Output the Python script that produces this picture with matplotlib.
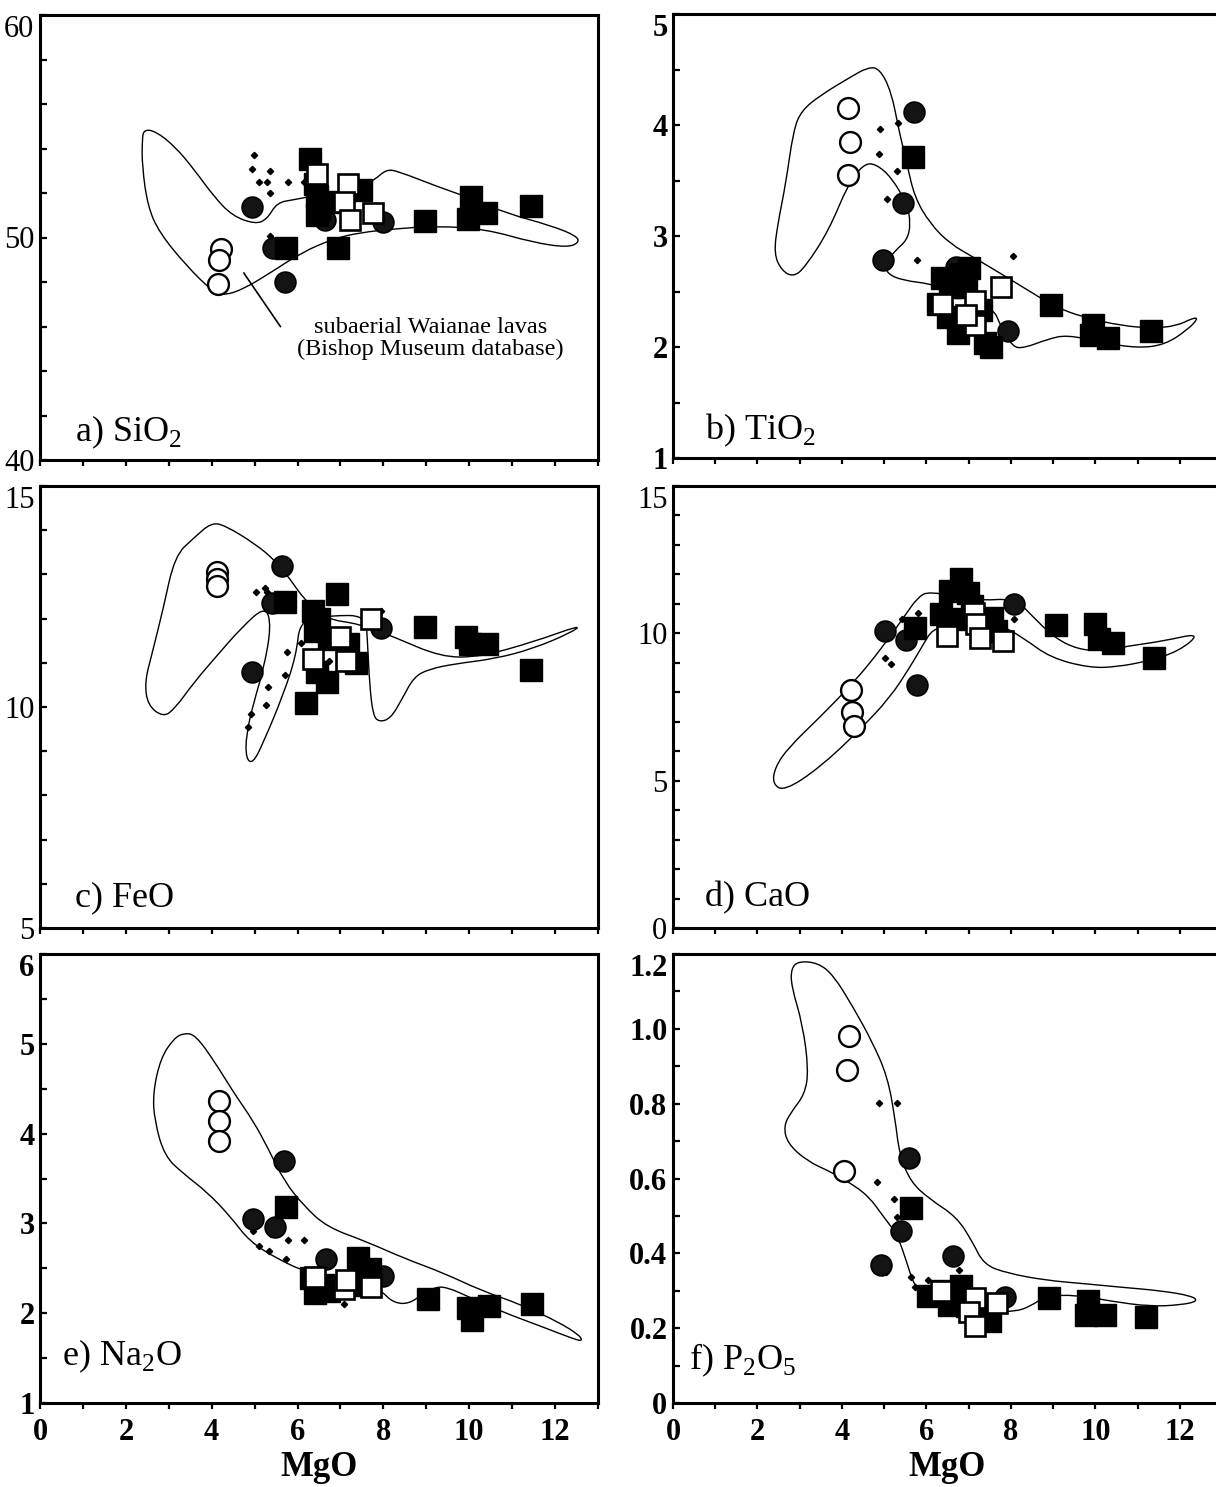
import numpy as np
import matplotlib
matplotlib.use('Agg')
import matplotlib.pyplot as plt
from matplotlib.path import Path
from matplotlib.patches import PathPatch
from matplotlib.ticker import FixedLocator, MultipleLocator, FixedFormatter

plt.rcParams['font.family'] = ['Liberation Serif', 'DejaVu Serif']

# ---- a) SiO2 vs MgO ----
a_field = [(2.42, 54.85), (2.69, 54.78), (3.14, 54.1), (3.59, 53.06), (4.04, 51.87), (4.48, 50.97),
           (5.02, 50.6), (5.29, 50.82), (5.52, 51.57), (5.92, 51.7), (6.37, 51.87), (7.35, 52.1),
           (7.8, 52.6), (8.07, 53.06), (8.34, 52.98), (9.24, 52.3), (10.13, 51.7), (10.85, 51.1),
           (11.93, 50.52), (12.5, 50.07), (12.56, 49.78), (12.29, 49.55), (11.48, 49.78), (10.4, 50.37),
           (9.24, 50.52), (8.34, 50.4), (7.44, 50.22), (6.82, 49.93), (6.1, 49.33), (5.38, 48.43),
           (4.75, 47.69), (4.3, 47.4), (4.04, 47.54), (3.41, 48.73), (2.78, 50.22), (2.51, 51.4),
           (2.38, 53.2), (2.38, 54.4)]
a_open_circ = [(4.22, 49.5), (4.18, 49.0), (4.15, 47.9)]
a_filled_circ = [(4.95, 51.35), (5.7, 48.0), (5.43, 49.55), (6.65, 50.8), (7.98, 50.7)]
a_filled_sq = [(6.28, 53.55), (6.4, 52.4), (6.45, 51.85), (6.5, 51.3), (6.45, 51.0), (6.7, 51.6),
               (7.49, 52.15), (5.74, 49.55), (6.95, 49.55), (8.97, 50.75), (10.04, 51.8),
               (9.96, 50.85), (10.4, 51.1), (11.43, 51.4)]
a_open_sq = [(6.46, 52.85), (7.17, 52.4), (7.08, 51.6), (7.22, 50.8), (7.76, 51.1)]
a_dots = [(4.98, 53.7), (4.93, 53.1), (5.36, 53.0), (5.1, 52.5), (5.3, 52.5), (5.78, 52.5),
          (5.36, 52.0), (5.36, 50.07), (6.14, 52.5)]

# ---- b) TiO2 vs MgO ----
b_field = [(2.39, 2.84), (2.57, 2.69), (2.85, 2.63), (3.13, 2.72), (3.69, 3.05), (4.15, 3.47),
           (4.52, 3.65), (4.8, 3.65), (5.17, 3.53), (5.54, 3.29), (5.63, 3.11), (5.54, 2.96),
           (5.26, 2.87), (5.03, 2.75), (5.07, 2.66), (5.44, 2.6), (6.09, 2.57), (6.56, 2.51),
           (7.57, 2.36), (7.76, 2.19), (8.04, 2.0), (8.31, 1.99), (8.87, 2.07), (9.33, 2.11),
           (10.17, 2.04), (11.0, 1.99), (11.65, 2.02), (12.2, 2.16), (12.44, 2.26), (12.3, 2.26),
           (11.93, 2.19), (11.37, 2.17), (10.63, 2.19), (9.7, 2.27), (9.06, 2.36), (8.41, 2.51),
           (7.94, 2.62), (7.11, 2.81), (6.56, 2.93), (6.09, 3.11), (5.72, 3.35), (5.54, 3.65),
           (5.35, 3.95), (5.17, 4.3), (4.89, 4.51), (4.61, 4.52), (4.15, 4.42), (3.5, 4.27),
           (3.04, 4.13), (2.85, 3.95), (2.67, 3.47), (2.48, 3.11)]
b_open_circ = [(4.15, 4.15), (4.19, 3.85), (4.15, 3.55)]
b_filled_circ = [(5.7, 4.12), (5.44, 3.3), (4.98, 2.78), (6.69, 2.72), (7.94, 2.14)]
b_filled_sq = [(5.68, 3.71), (6.37, 2.62), (6.79, 2.66), (7.02, 2.71), (6.56, 2.54), (6.93, 2.54),
               (6.28, 2.39), (6.5, 2.27), (6.74, 2.13), (7.3, 2.33), (7.39, 2.04), (7.53, 2.0),
               (8.96, 2.38), (9.94, 2.2), (9.89, 2.11), (10.3, 2.08), (11.32, 2.14)]
b_open_sq = [(7.76, 2.54), (6.37, 2.39), (7.16, 2.41), (7.16, 2.2), (6.93, 2.29)]
b_dots = [(5.33, 4.02), (4.9, 3.96), (4.87, 3.74), (5.3, 3.59), (5.07, 3.33), (5.77, 2.78), (8.04, 2.82)]

# ---- c) FeO vs MgO ----
c_field = [(2.87, 9.77), (2.51, 10.04), (2.44, 10.56), (2.6, 11.17), (2.87, 12.22), (3.14, 13.42),
           (3.59, 13.83), (3.99, 14.17), (4.31, 14.11), (5.03, 13.68), (5.48, 13.31), (5.83, 12.89),
           (6.15, 12.44), (6.64, 11.99), (7.45, 11.88), (8.26, 11.58), (9.34, 11.13), (10.23, 11.13),
           (11.49, 11.47), (12.61, 11.86), (12.39, 11.69), (11.49, 11.32), (10.59, 11.09), (9.69, 10.98),
           (9.07, 10.86), (8.71, 10.68), (8.44, 10.19), (8.17, 9.74), (7.9, 9.66), (7.76, 9.81),
           (7.68, 10.49), (7.63, 11.47), (7.59, 12.07), (6.82, 12.07), (6.06, 11.99), (5.97, 11.17),
           (5.66, 10.26), (5.21, 9.21), (4.96, 8.72), (4.8, 8.83), (4.8, 9.36), (4.98, 10.11),
           (5.21, 10.86), (5.39, 11.84), (5.25, 12.29), (4.67, 11.77), (4.13, 11.17), (3.59, 10.56),
           (3.14, 9.96)]
c_open_circ = [(4.13, 13.05), (4.13, 12.9), (4.13, 12.74)]
c_filled_circ = [(5.64, 13.2), (5.4, 12.35), (4.94, 10.8), (7.94, 11.78)]
c_filled_sq = [(6.91, 12.56), (5.7, 12.38), (6.36, 12.18), (6.5, 11.99), (6.41, 11.73), (6.73, 11.54),
               (7.18, 11.43), (7.36, 11.0), (6.46, 10.79), (6.69, 10.56), (6.19, 10.08), (8.98, 11.8),
               (9.92, 11.58), (10.01, 11.43), (10.41, 11.43), (11.45, 10.83)]
c_open_sq = [(7.0, 11.58), (6.36, 11.09), (7.14, 11.05), (7.72, 11.99)]
c_dots = [(5.03, 12.6), (5.25, 12.7), (5.3, 12.6), (6.08, 11.45), (5.75, 11.24), (5.7, 10.73),
          (5.31, 10.45), (5.27, 10.05), (4.91, 9.85), (4.85, 9.55), (6.73, 11.03), (7.09, 11.03),
          (7.94, 12.18)]

# ---- d) CaO vs MgO ----
d_field = [(6.06, 11.44), (7.18, 11.1), (8.1, 11.19), (8.47, 10.64), (9.03, 9.85), (9.58, 9.46),
           (10.14, 9.4), (10.79, 9.57), (11.62, 9.74), (12.5, 10.02), (11.99, 9.4), (11.25, 9.06),
           (10.51, 8.86), (9.86, 8.83), (8.94, 9.17), (8.29, 9.85), (7.73, 10.31), (6.62, 10.19),
           (6.16, 10.19), (5.88, 9.51), (5.6, 8.83), (5.14, 7.82), (4.4, 6.69), (3.47, 5.44),
           (2.64, 4.65), (2.36, 4.88), (2.41, 5.44), (2.73, 6.12), (3.47, 7.14), (4.31, 8.38),
           (4.95, 9.51), (5.51, 10.64), (5.79, 11.21)]
d_open_circ = [(4.21, 8.07), (4.23, 7.33), (4.29, 6.86)]
d_filled_circ = [(5.02, 10.08), (5.51, 9.76), (5.77, 8.25), (8.07, 10.98), (6.44, 10.53)]
d_filled_sq = [(5.74, 10.17), (6.81, 11.83), (6.57, 11.44), (6.99, 11.38), (6.34, 10.64), (6.67, 10.47),
               (7.08, 10.93), (7.55, 10.53), (7.64, 10.08), (9.07, 10.28), (10.0, 10.33), (10.09, 9.8),
               (10.42, 9.68), (11.39, 9.15)]
d_open_sq = [(6.48, 9.91), (7.13, 10.7), (7.18, 10.3), (7.27, 9.85), (7.82, 9.74)]
d_dots = [(5.42, 10.48), (5.79, 10.7), (5.03, 9.17), (5.16, 8.97), (8.08, 10.48)]

# ---- e) Na2O vs MgO ----
e_field = [(3.35, 5.12), (3.62, 5.1), (4.07, 4.8), (4.52, 4.45), (4.97, 4.14), (5.33, 3.82),
           (5.69, 3.47), (6.14, 3.2), (6.68, 2.96), (7.59, 2.8), (8.49, 2.61), (9.39, 2.45),
           (10.29, 2.25), (11.19, 2.1), (12.09, 1.9), (12.58, 1.75), (12.63, 1.69), (12.45, 1.71),
           (11.64, 1.86), (10.74, 2.02), (10.0, 2.18), (9.48, 2.29), (9.2, 2.29), (8.94, 2.22),
           (8.58, 2.1), (8.22, 2.12), (7.95, 2.25), (7.5, 2.37), (6.95, 2.41), (6.23, 2.45),
           (5.51, 2.61), (4.88, 2.8), (4.43, 3.08), (3.89, 3.35), (3.35, 3.55), (2.9, 3.75),
           (2.67, 4.14), (2.63, 4.45), (2.81, 4.84), (3.12, 5.06)]
e_open_circ = [(4.16, 4.36), (4.16, 4.14), (4.16, 3.92)]
e_filled_circ = [(5.69, 3.69), (4.97, 3.05), (5.47, 2.96), (6.67, 2.6), (8.0, 2.41)]
e_filled_sq = [(5.74, 3.18), (6.32, 2.39), (6.41, 2.22), (6.73, 2.25), (6.86, 2.31), (7.41, 2.61),
               (7.54, 2.41), (7.36, 2.31), (7.68, 2.49), (9.03, 2.16), (9.97, 2.06), (10.06, 1.92),
               (10.47, 2.08), (11.46, 2.1)]
e_open_sq = [(6.41, 2.4), (7.09, 2.27), (7.72, 2.29), (7.14, 2.37)]
e_dots = [(4.97, 2.92), (5.38, 2.88), (5.78, 2.81), (6.14, 2.81), (5.11, 2.75), (5.33, 2.69),
          (5.74, 2.6), (7.09, 2.1)]

# ---- f) P2O5 vs MgO ----
f_field = [(2.98, 1.181), (3.44, 1.176), (3.8, 1.143), (4.26, 1.059), (4.72, 0.965), (5.08, 0.872),
           (5.26, 0.759), (5.36, 0.665), (5.63, 0.59), (6.09, 0.544), (6.72, 0.497), (7.09, 0.431),
           (7.36, 0.37), (7.91, 0.347), (8.82, 0.328), (9.73, 0.319), (10.65, 0.309), (11.56, 0.3),
           (12.29, 0.286), (12.43, 0.272), (12.02, 0.262), (11.29, 0.258), (10.37, 0.272), (9.55, 0.289),
           (8.82, 0.286), (8.46, 0.258), (8.09, 0.244), (7.45, 0.244), (6.72, 0.272), (6.09, 0.291),
           (5.72, 0.309), (5.54, 0.375), (5.31, 0.45), (4.99, 0.497), (4.63, 0.553), (4.17, 0.59),
           (3.71, 0.619), (3.17, 0.647), (2.71, 0.694), (2.62, 0.74), (2.8, 0.778), (3.12, 0.825),
           (3.21, 0.89), (3.07, 1.012), (2.8, 1.115), (2.8, 1.162)]
f_open_circ = [(4.17, 0.98), (4.12, 0.89), (4.06, 0.62)]
f_filled_circ = [(5.58, 0.654), (5.4, 0.46), (4.92, 0.37), (6.62, 0.394), (7.86, 0.283)]
f_filled_sq = [(5.63, 0.52), (6.04, 0.286), (6.4, 0.3), (6.82, 0.314), (6.54, 0.262), (6.95, 0.258),
               (7.45, 0.234), (7.5, 0.22), (8.91, 0.281), (9.82, 0.272), (9.78, 0.234), (10.24, 0.234),
               (11.2, 0.23)]
f_open_sq = [(6.34, 0.3), (7.14, 0.281), (7.0, 0.244), (7.14, 0.206), (7.68, 0.267)]
f_dots = [(4.87, 0.801), (5.31, 0.801), (4.84, 0.59), (5.24, 0.545), (5.31, 0.497), (5.04, 0.351),
          (5.63, 0.337), (6.04, 0.33), (5.72, 0.309), (6.77, 0.356)]

# y-axis setup per panel: labelled ticks and tick text
a_yticks = [40, 50, 60]
b_yticks = [1, 2, 3, 4, 5]
c_yticks = [5, 10, 15]
d_yticks = [0, 5, 10, 15]
e_yticks = [1, 2, 3, 4, 5, 6]
f_yticks = [0, 0.2, 0.4, 0.6, 0.8, 1.0, 1.2]
f_yticklabels = ['0', '0.2', '0.4', '0.6', '0.8', '1.0', '1.2']
mgo_ticks = [0, 2, 4, 6, 8, 10, 12]

W, H = 1216, 1487
fig = plt.figure(figsize=(W / 100, H / 100), dpi=100)


def make_axes(left, top, width, bottom):
    return fig.add_axes([left / W, 1 - bottom / H, width / W, (bottom - top) / H])


def field_path(pts):
    # closed smooth outline (quadratic bezier through segment midpoints)
    p = np.asarray(pts, dtype=float)
    mids = (p + np.roll(p, -1, axis=0)) / 2
    verts = [mids[-1]]
    codes = [Path.MOVETO]
    for i in range(len(p)):
        verts += [p[i], mids[i]]
        codes += [Path.CURVE3, Path.CURVE3]
    return Path(verts, codes)


def xy(pts):
    a = np.asarray(pts, dtype=float)
    return a[:, 0], a[:, 1]


panels = [
    dict(pos=(40, 15, 558, 460), field=a_field, oc=a_open_circ, fc=a_filled_circ, fs=a_filled_sq,
         os=a_open_sq, dots=a_dots, ylim=(40, 60), yt=a_yticks, ytl=None, minor=2,
         label='a) SiO$_\\mathregular{2}$', lab_xy=(0.062, 0.042), bold=False, bottom=False),
    dict(pos=(673, 14, 549, 458), field=b_field, oc=b_open_circ, fc=b_filled_circ, fs=b_filled_sq,
         os=b_open_sq, dots=b_dots, ylim=(1, 5), yt=b_yticks, ytl=None, minor=0.5,
         label='b) TiO$_\\mathregular{2}$', lab_xy=(0.058, 0.042), bold=True, bottom=False),
    dict(pos=(40, 486, 558, 928), field=c_field, oc=c_open_circ, fc=c_filled_circ, fs=c_filled_sq,
         os=c_open_sq, dots=c_dots, ylim=(5, 15), yt=c_yticks, ytl=None, minor=1,
         label='c) FeO', lab_xy=(0.062, 0.05), bold=False, bottom=False),
    dict(pos=(673, 486, 549, 928), field=d_field, oc=d_open_circ, fc=d_filled_circ, fs=d_filled_sq,
         os=d_open_sq, dots=d_dots, ylim=(0, 15), yt=d_yticks, ytl=None, minor=1,
         label='d) CaO', lab_xy=(0.058, 0.05), bold=False, bottom=False),
    dict(pos=(40, 954, 558, 1403), field=e_field, oc=e_open_circ, fc=e_filled_circ, fs=e_filled_sq,
         os=e_open_sq, dots=e_dots, ylim=(1, 6), yt=e_yticks, ytl=None, minor=0.5,
         label='e) Na$_\\mathregular{2}$O', lab_xy=(0.04, 0.085), bold=True, bottom=True),
    dict(pos=(673, 954, 549, 1403), field=f_field, oc=f_open_circ, fc=f_filled_circ, fs=f_filled_sq,
         os=f_open_sq, dots=f_dots, ylim=(0, 1.2), yt=f_yticks, ytl=f_yticklabels, minor=0.1,
         label='f) P$_\\mathregular{2}$O$_\\mathregular{5}$', lab_xy=(0.03, 0.075), bold=True, bottom=True),
]

for p in panels:
    ax = make_axes(*p['pos'])
    ax.set_xlim(0, 13)
    ax.set_ylim(*p['ylim'])

    ax.add_patch(PathPatch(field_path(p['field']), facecolor='none', edgecolor='black', lw=1.0, zorder=2))

    x, y = xy(p['dots'])
    ax.plot(x, y, 'D', ms=3.2, color='black', zorder=3)
    x, y = xy(p['oc'])
    ax.plot(x, y, 'o', ms=15, mfc='white', mec='black', mew=1.7, zorder=4)
    x, y = xy(p['fc'])
    ax.plot(x, y, 'o', ms=15, mfc='#141414', mec='black', mew=1.2, zorder=4)
    x, y = xy(p['fs'])
    ax.plot(x, y, 's', ms=15.5, mfc='black', mec='black', mew=1.0, zorder=5)
    x, y = xy(p['os'])
    ax.plot(x, y, 's', ms=14.5, mfc='white', mec='black', mew=1.9, zorder=6)

    for s in ax.spines.values():
        s.set_linewidth(2.2)

    ax.xaxis.set_major_locator(FixedLocator(mgo_ticks))
    ax.xaxis.set_minor_locator(MultipleLocator(1))
    ax.yaxis.set_major_locator(FixedLocator(p['yt']))
    ax.yaxis.set_minor_locator(MultipleLocator(p['minor']))
    if p['ytl'] is not None:
        ax.yaxis.set_major_formatter(FixedFormatter(p['ytl']))

    ax.tick_params(axis='y', which='both', direction='in', length=5, width=1.6,
                   labelsize=22, pad=4, right=False)
    ax.tick_params(axis='x', which='both', direction='out', length=4, width=1.6,
                   labelsize=22, pad=7, top=False)
    wt = 'bold' if p['bold'] else 'normal'
    ylabels = ax.get_yticklabels()
    for t in ylabels:
        t.set_fontweight(wt)
    # top value sits just under the upper spine
    ylabels[-1].set_verticalalignment('top')

    if p['bottom']:
        for t in ax.get_xticklabels():
            t.set_fontweight('bold')
        ax.set_xlabel('MgO', fontsize=25, fontweight='bold', labelpad=3)
    else:
        ax.tick_params(axis='x', labelbottom=False)

    ax.text(p['lab_xy'][0], p['lab_xy'][1], p['label'], transform=ax.transAxes,
            fontsize=26, ha='left', va='baseline')

    if p['label'].startswith('a)'):
        ax.plot([4.75, 5.6], [48.4, 46.0], color='black', lw=1.2, zorder=2)
        ax.text(9.1, 45.45, 'subaerial Waianae lavas\n(Bishop Museum database)', fontsize=17.5,
                ha='center', va='center', linespacing=1.05)

fig.savefig('out.png', dpi=100)
